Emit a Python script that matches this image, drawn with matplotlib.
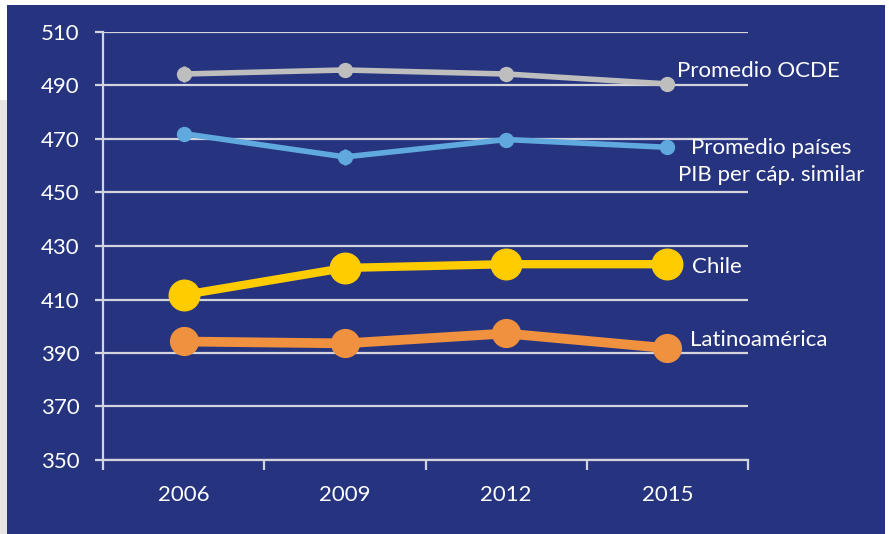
import numpy as np
import matplotlib.pyplot as plt
from matplotlib.patches import Rectangle

years = ['2006', '2009', '2012', '2015']
ocde = [494.3, 495.8, 494.3, 490.6]
similar = [472.0, 463.3, 469.8, 466.9]
chile = [411.7, 421.8, 423.2, 423.2]
latam = [394.3, 393.6, 397.3, 391.8]
err_ocde = [3.0, 2.5, 2.5, 2.0]
err_similar = [2.5, 3.0, 2.5, 2.0]
err_chile = [5.0, 4.0, 4.5, 4.0]
err_latam = [4.5, 4.5, 4.0, 4.0]

bg = '#263480'
grid_c = '#D4D4DC'

plt.rcParams['font.family'] = ['Lato', 'DejaVu Sans']

fig = plt.figure(figsize=(8.89, 5.34), dpi=100)
fig.patch.set_facecolor('white')
# background panel + light strip on the left
fig.patches.append(Rectangle((0, 0), 7 / 889, 434 / 534, transform=fig.transFigure,
                             facecolor='#E8E6E5', edgecolor='none', zorder=-2))
fig.patches.append(Rectangle((7 / 889, 0), 878 / 889, 529 / 534, transform=fig.transFigure,
                             facecolor=bg, edgecolor='none', zorder=-1))

ax = fig.add_axes([103 / 889, 74 / 534, 645 / 889, 428 / 534])
ax.set_facecolor('none')
x = np.arange(len(years))

ax.errorbar(x, ocde, yerr=err_ocde, color='#BEBEBE', lw=4, marker='o', ms=10,
            elinewidth=2, capsize=0, zorder=3)
ax.errorbar(x, similar, yerr=err_similar, color='#5FA9DE', lw=4, marker='o', ms=10,
            elinewidth=2, capsize=0, zorder=3)
ax.errorbar(x, chile, yerr=err_chile, color='#FFCC00', lw=6, marker='o', ms=22,
            elinewidth=3, capsize=0, zorder=4)
ax.errorbar(x, latam, yerr=err_latam, color='#F0913F', lw=7, marker='o', ms=20,
            elinewidth=3, capsize=0, zorder=4)

ax.set_xlim(-0.5, 3.5)
ax.set_ylim(350, 510)
ax.set_yticks(np.arange(350, 511, 20))
ax.set_xticks(x)
ax.set_xticklabels(years)
ax.set_xticks(np.arange(-0.5, 3.6, 1), minor=True)
ax.grid(axis='y', color=grid_c, lw=1.6, zorder=1)
ax.set_axisbelow(True)

for s in ['top', 'right']:
    ax.spines[s].set_visible(False)
for s in ['left', 'bottom']:
    ax.spines[s].set_color(grid_c)
    ax.spines[s].set_linewidth(1.6)

fs = 16
ax.tick_params(axis='y', colors=grid_c, length=6, width=1.6, pad=11,
               labelsize=fs, labelcolor='white')
ax.tick_params(axis='x', which='major', length=0, pad=18, labelsize=fs,
               labelcolor='white')
ax.tick_params(axis='x', which='minor', colors=grid_c, length=7, width=1.6)

tk = dict(color='white', fontsize=fs, va='center', clip_on=False)
ax.text(3.06, 495.4, 'Promedio OCDE', ha='left', **tk)
ax.text(3.643, 461.6, 'Promedio países\nPIB per cáp. similar', ha='center',
        linespacing=1.45, **tk)
ax.text(3.15, 422.1, 'Chile', ha='left', **tk)
ax.text(3.14, 394.9, 'Latinoamérica', ha='left', **tk)

fig.savefig('out.png', dpi=100, facecolor=fig.get_facecolor())
